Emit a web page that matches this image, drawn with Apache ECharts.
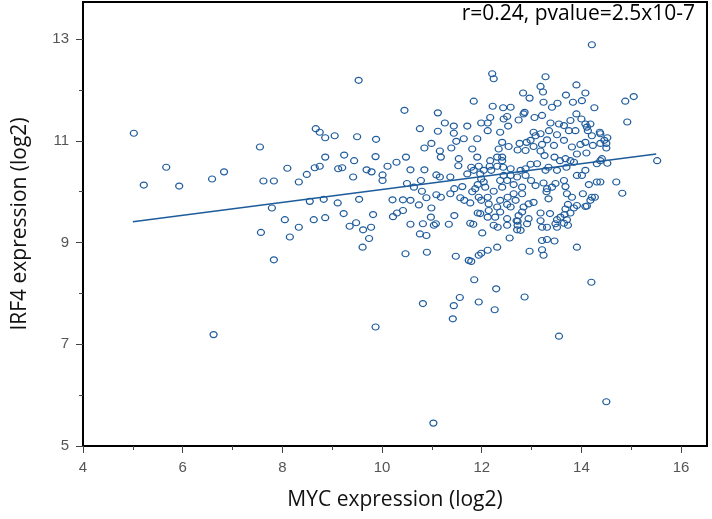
<!DOCTYPE html>
<html><head><meta charset="utf-8">
<script src="https://cdn.jsdelivr.net/npm/echarts@6/dist/echarts.min.js"></script>
<style>html,body{margin:0;padding:0;background:#fff}#c{width:712px;height:519px}</style>
</head><body><div id="c"></div>
<script>
const xTicks = [4, 6, 8, 10, 12, 14, 16];
const xMinorTicks = [5, 7, 9, 11, 13, 15];
const yTicks = [5, 7, 9, 11, 13];
const yMinorTicks = [6, 8, 10, 12];
const fitX = [5.0, 15.5];
const fitY = [9.41, 10.74];
const annotation = 'r=0.24, pvalue=2.5x10-7';
// [MYC, IRF4] pairs
const samples = [
[5.02,11.15],[5.22,10.13],[5.67,10.48],[5.93,10.11],[6.59,10.25],[6.83,10.39],[6.62,7.19],[7.55,10.88],
[7.62,10.21],[7.83,10.21],[8.10,10.46],[8.33,10.19],[8.49,10.34],[8.65,10.47],[8.75,10.50],[8.67,11.24],
[8.75,11.17],[8.86,11.06],[9.05,11.10],[8.86,10.68],[9.12,10.45],[9.20,10.47],[9.24,10.72],[9.44,10.61],
[9.42,10.29],[9.50,11.08],[9.88,11.03],[9.87,10.69],[9.69,10.43],[9.79,10.39],[10.01,10.33],[10.01,10.22],
[10.11,10.50],[10.29,10.58],[10.21,9.84],[10.22,9.51],[10.30,9.58],[9.82,9.55],[9.54,9.85],[9.23,9.57],
[9.11,9.78],[8.83,9.85],[8.55,9.81],[7.79,9.68],[8.05,9.45],[8.63,9.45],[8.86,9.49],[8.33,9.30],
[8.15,9.11],[7.57,9.20],[7.83,8.66],[9.35,9.32],[9.48,9.39],[9.62,9.25],[9.78,9.30],[9.74,9.08],
[9.61,8.91],[9.87,7.34],[9.53,12.19],
[10.45,11.60],[10.48,10.68],[10.57,10.43],[10.50,10.16],[10.42,9.84],[10.42,9.63],[10.47,8.78],[10.76,11.24],
[10.85,10.86],[10.99,10.95],[10.85,10.43],[10.78,10.22],[10.64,10.09],[10.80,10.01],[10.89,9.88],[10.57,9.83],
[10.74,9.74],[10.99,9.68],[10.98,9.50],[10.57,9.36],[10.82,9.37],[10.76,9.17],[10.89,9.14],[11.04,9.34],
[11.08,9.37],[10.90,8.81],[10.82,7.80],[11.12,11.55],[11.12,11.19],[11.26,11.35],[11.16,10.80],[11.18,10.68],
[11.09,10.33],[11.16,10.29],[11.09,9.94],[11.18,9.89],[11.34,9.36],[11.45,9.53],[11.48,8.73],[11.44,7.76],
[11.42,7.50],[11.56,7.92],[11.44,11.29],[11.44,11.15],[11.39,10.86],[11.49,10.99],[11.64,11.04],[11.54,10.65],
[11.53,10.51],[11.37,10.29],[11.45,10.06],[11.61,10.10],[11.37,9.96],[11.57,9.88],[11.65,9.83],[11.77,9.78],
[11.71,11.29],[11.84,11.78],[11.99,11.35],[12.12,11.35],[12.21,12.32],[12.24,12.22],[12.22,11.68],[12.17,11.46],
[12.12,11.20],[11.91,11.04],[11.81,10.84],[11.91,10.68],[11.79,10.48],[11.84,10.42],[11.94,10.50],[11.71,10.35],
[11.99,10.25],[12.07,10.09],[11.92,9.58],[11.97,9.57],[11.77,9.38],[11.83,9.36],[12.12,9.50],[12.01,9.19],
[11.85,8.27],[11.74,8.65],[11.79,8.63],[11.94,8.75],[11.99,8.79],[12.12,8.85],[11.94,7.83],[12.29,8.09],
[12.26,7.68],[12.31,8.91],[12.24,9.34],[12.32,9.30],[12.51,9.34],[12.56,9.09],[12.12,9.89],[12.24,10.01],
[12.41,10.09],[12.37,10.22],[12.19,10.42],[12.41,10.61],[12.34,10.84],[12.41,10.97],[12.54,10.89],[12.37,11.17],
[12.53,11.29],[12.44,11.43],[12.58,11.66],[12.43,11.65],[12.51,11.48],[12.74,11.41],[12.84,11.53],[12.86,11.56],
[12.83,11.94],[12.96,11.84],[13.06,11.46],[13.18,12.07],[13.23,11.96],[13.28,12.26],[13.24,11.76],[13.21,11.50],
[13.41,11.66],[13.52,11.74],[13.69,11.90],[13.90,12.10],[14.08,11.94],[14.01,11.79],[13.83,11.76],[13.90,11.53],
[14.00,11.43],[14.26,11.65],[14.18,11.33],[14.11,11.27],[14.21,11.10],[14.37,11.17],[14.52,11.06],[14.38,10.95],
[14.23,10.91],[14.50,10.86],[14.41,10.65],[14.52,10.56],[14.31,10.55],[14.38,10.19],[14.70,10.19],[14.82,9.97],
[14.27,9.89],[14.18,9.83],[14.11,9.72],[14.03,9.96],[14.15,10.14],[14.01,10.32],[13.91,10.32],[14.08,10.42],
[13.91,10.74],[14.10,10.76],[13.98,10.93],[14.08,10.97],[13.81,10.88],[13.88,11.20],[13.75,11.20],[13.65,11.30],
[13.55,11.33],[13.51,11.12],[13.65,11.01],[13.78,11.40],[13.38,11.35],[13.35,11.20],[13.45,10.91],[13.31,11.02],
[13.18,11.14],[13.08,11.10],[13.04,11.17],[12.98,11.01],[12.90,10.97],[12.76,10.95],[12.72,10.82],[12.88,10.81],
[13.04,10.89],[13.21,10.93],[13.18,10.80],[13.26,10.71],[13.46,10.68],[13.57,10.61],[13.68,10.65],[13.78,10.61],
[13.85,10.58],[13.70,10.48],[13.51,10.42],[13.34,10.48],[13.28,10.42],[13.11,10.55],[12.98,10.54],[12.88,10.45],
[12.78,10.42],[12.71,10.29],[12.88,10.32],[12.99,10.22],[13.08,10.12],[13.24,10.17],[13.31,10.06],[13.30,10.00],
[13.41,10.09],[13.48,10.16],[13.65,10.22],[13.68,10.10],[13.71,9.96],[13.81,9.89],[13.73,9.75],[13.68,9.66],
[13.85,9.68],[13.91,9.73],[13.78,9.58],[13.66,9.55],[13.71,9.45],[13.65,9.38],[13.73,9.34],[13.58,9.50],
[13.51,9.45],[13.37,9.57],[13.34,9.86],[13.18,9.58],[13.04,9.79],[12.94,9.76],[12.84,9.70],[12.81,9.60],
[12.74,9.53],[12.70,9.43],[12.58,9.70],[12.51,9.75],[12.52,9.89],[12.64,9.96],[12.68,9.83],[12.81,9.96],
[12.81,10.09],[12.64,10.14],[12.51,10.22],[12.44,10.32],[12.58,10.32],[12.58,10.45],[12.43,10.48],[12.41,10.68],
[12.31,10.68],[12.31,10.50],[12.17,10.61],[12.16,10.50],[12.04,10.42],[11.97,10.35],[12.04,10.19],[11.92,10.14],
[11.87,10.06],[11.81,10.00],[11.94,9.89],[11.99,9.83],[12.14,9.76],[12.14,9.63],[12.31,9.70],[12.37,9.83],
[12.37,9.60],[12.27,9.50],[12.51,9.47],[12.72,9.42],[12.72,9.34],[12.71,9.25],[12.78,9.24],[12.91,9.37],
[12.94,9.47],[13.18,9.43],[13.21,9.30],[13.31,9.30],[13.48,9.37],[13.51,9.30],[13.21,9.04],[13.31,9.06],
[13.46,9.03],[12.96,8.83],[13.21,8.86],[13.24,8.75],[12.86,7.93],[13.91,8.91],[14.08,9.71],[14.21,9.89],
[14.31,10.19],[14.38,10.61],[14.46,11.01],[14.50,10.95],[14.38,11.14],[14.13,11.20],[14.08,11.33],[14.88,11.78],
[15.05,11.87],[14.92,11.37],[15.52,10.61],[14.20,8.22],[13.55,7.16],[14.21,12.89],[11.03,5.45],[14.50,5.87]
];

const tickLabelStyle = {color: '#555', fontSize: 15, fontFamily: '"Liberation Sans Narrow","Liberation Sans",Arial,sans-serif'};
const nameStyle = {color: '#111', fontSize: 21, fontFamily: '"Open Sans","Noto Sans",sans-serif'};

const chart = echarts.init(document.getElementById('c'), null, {renderer: 'canvas'});
chart.setOption({
  animation: false,
  backgroundColor: '#fff',
  grid: {left: 83, right: 5, top: 2, bottom: 73, show: true, borderColor: '#000', borderWidth: 2},
  xAxis: [{
    type: 'value', min: 4, max: 16.52, interval: 2,
    name: 'MYC expression (log2)', nameLocation: 'middle', nameGap: 44, nameTextStyle: nameStyle,
    axisLine: {show: true, lineStyle: {color: '#000', width: 2}},
    axisTick: {show: true, length: 7, customValues: xTicks, lineStyle: {color: '#444', width: 1}},
    axisLabel: {customValues: xTicks, margin: 14, ...tickLabelStyle, formatter: v => String(v)},
    splitLine: {show: false}
  }, {
    type: 'value', min: 4, max: 16.52, interval: 2, position: 'bottom', gridIndex: 0,
    axisLine: {show: false},
    axisTick: {show: true, length: 4, customValues: xMinorTicks, lineStyle: {color: '#444', width: 1}},
    axisLabel: {show: false}, splitLine: {show: false}
  }],
  yAxis: [{
    type: 'value', min: 5, max: 13.73, interval: 2,
    name: 'IRF4 expression (log2)', nameLocation: 'middle', nameGap: 52, nameTextStyle: nameStyle,
    axisLine: {show: true, lineStyle: {color: '#000', width: 2}},
    axisTick: {show: true, length: 7, customValues: yTicks, lineStyle: {color: '#444', width: 1}},
    axisLabel: {customValues: yTicks, margin: 14, ...tickLabelStyle, formatter: v => String(v)},
    splitLine: {show: false}
  }, {
    type: 'value', min: 5, max: 13.73, interval: 2, position: 'left', gridIndex: 0,
    axisLine: {show: false},
    axisTick: {show: true, length: 4, customValues: yMinorTicks, lineStyle: {color: '#444', width: 1}},
    axisLabel: {show: false}, splitLine: {show: false}
  }],
  graphic: [{
    type: 'text', x: 695, y: 14, z: 10,
    style: {text: annotation, font: '21px "Open Sans","Noto Sans",sans-serif', fill: '#000', align: 'right', verticalAlign: 'middle'}
  }],
  series: [{
    type: 'scatter', xAxisIndex: 0, yAxisIndex: 0,
    data: samples, symbol: 'circle', symbolSize: [7, 6],
    itemStyle: {color: 'rgba(255,255,255,0)', borderColor: '#1f5c9c', borderWidth: 1.2, opacity: 1}
  }, {
    type: 'line', xAxisIndex: 0, yAxisIndex: 0,
    data: fitX.map((x, i) => [x, fitY[i]]), showSymbol: false, symbol: 'none',
    lineStyle: {color: '#1d5c9a', width: 1.5}, z: 3
  }]
});
</script>
</body></html>
